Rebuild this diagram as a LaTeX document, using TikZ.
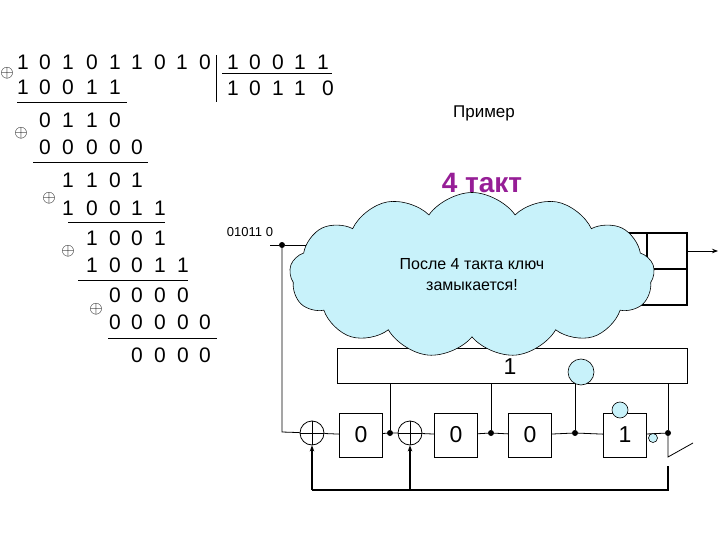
\documentclass[tikz,border=0pt]{standalone}
\usepackage{fontspec}
\setmainfont{Liberation Sans}
\usetikzlibrary{shapes.symbols,arrows.meta}
\definecolor{cloudc}{RGB}{200,242,250}
\definecolor{purp}{RGB}{150,30,150}
\begin{document}
\begin{tikzpicture}[x=1pt,y=-1pt,
  dg/.style={font=\fontsize{21}{21}\selectfont,inner sep=0pt},
  xo/.style={font=\fontsize{16}{16}\selectfont,inner sep=0pt},
  ln/.style={line width=0.8pt},
  reg/.style={draw,line width=0.8pt,minimum width=43,minimum height=44,font=\fontsize{23}{23}\selectfont},
  xr/.style={draw,circle,line width=0.8pt,minimum size=24,inner sep=0pt},
  dot/.style={circle,fill,inner sep=0pt,minimum size=6},
  bl/.style={draw,circle,fill=cloudc,line width=0.6pt,inner sep=0pt}]
\useasboundingbox (0,0) rectangle (720,540);
% division
\foreach \x/\t [count=\i] in {23/1,45/0,68/1,92/0,115/1,137/1,160/0,182/1,205/0}
  \node[dg] (a\i) at (\x,62) {\t};
\foreach \x/\t [count=\i] in {23/1,45/0,68/0,92/1,115/1} \node[dg] (b\i) at (\x,87) {\t};
\node[xo] (o1) at (7,73) {$\oplus$};
\draw[ln] (17,102) -- (127,102);
\draw[ln] (216,55) -- (216,102);
\foreach \x/\t [count=\i] in {233/1,255/0,278/0,300/1,323/1} \node[dg] (d\i) at (\x,62) {\t};
\draw[ln] (222,73) -- (332,73);
\foreach \x/\t [count=\i] in {233/1,255/0,278/1,300/1,328/0} \node[dg] (q\i) at (\x,88) {\t};
\foreach \x/\t [count=\i] in {45/0,68/1,92/1,115/0} \node[dg] (c\i) at (\x,120) {\t};
\node[xo] (o2) at (21,133) {$\oplus$};
\foreach \x/\t [count=\i] in {45/0,68/0,92/0,115/0,137/0} \node[dg] (e\i) at (\x,147) {\t};
\draw[ln] (33,162) -- (148,162);
\foreach \x/\t [count=\i] in {68/1,92/1,115/0,137/1} \node[dg] (f\i) at (\x,180) {\t};
\node[xo] (o3) at (49,198) {$\oplus$};
\foreach \x/\t [count=\i] in {68/1,92/0,115/0,137/1,160/1} \node[dg] (g\i) at (\x,208) {\t};
\draw[ln] (68,222) -- (165,222);
\foreach \x/\t [count=\i] in {92/1,115/0,137/0,160/1} \node[dg] (h\i) at (\x,238) {\t};
\node[xo] (o4) at (68,251) {$\oplus$};
\foreach \x/\t [count=\i] in {92/1,115/0,137/0,160/1,183/1} \node[dg] (k\i) at (\x,265) {\t};
\draw[ln] (78,280) -- (188,280);
\foreach \x/\t [count=\i] in {115/0,137/0,160/0,183/0} \node[dg] (m\i) at (\x,295) {\t};
\node[xo] (o5) at (96,309) {$\oplus$};
\foreach \x/\t [count=\i] in {115/0,137/0,160/0,183/0,205/0} \node[dg] (n\i) at (\x,322) {\t};
\draw[ln] (108,338) -- (217,338);
\foreach \x/\t [count=\i] in {137/0,160/0,183/0,205/0} \node[dg] (p\i) at (\x,355) {\t};
% labels
\node[font=\fontsize{17}{17}\selectfont] (ex) at (484,113) {Пример};
\node[font=\bfseries\fontsize{28}{28}\selectfont,text=purp] (tk) at (482,183) {4 такт};
\node[font=\fontsize{13}{13}\selectfont] (in) at (250,232) {01011 0};
% circuit
\coordinate (s) at (270,245);
\node[dot] (d0) at (282,245) {};
\coordinate (c0) at (282,432);
\node[xr] (x1) at (312,433) {};
\node[reg] (r1) at (361,435) {0};
\node[dot] (d1) at (390,433) {};
\node[xr] (x2) at (410,433) {};
\node[reg] (r2) at (456,435) {0};
\node[dot] (d2) at (491,433) {};
\node[reg] (r3) at (530,435) {0};
\node[dot] (d3) at (575,433) {};
\node[reg] (r4) at (625,435) {1};
\node[dot] (d4) at (668,433) {};
\draw[ln] (337,348) rectangle (687,383);
\node[font=\fontsize{23}{23}\selectfont] (one) at (510,367) {1};
\draw[ln] (s) -- (d0) -- (322,245);
\draw[ln] (d0) -- (c0) -- (x1) -- (r1) -- (d1) -- (x2) -- (r2) -- (d2) -- (r3) -- (d3) -- (r4) -- (d4);
\foreach \d in {d1,d2,d4} \draw[ln] (\d) -- (\d |- 0,383);
\draw[ln] (d3) -- (575,380);
\draw[ln] (x1.west) -- (x1.east) (x1.north) -- (x1.south);
\draw[ln] (x2.west) -- (x2.east) (x2.north) -- (x2.south);
\draw[ln] (d4) -- (668,457) -- (693,443);
\coordinate (fb) at (668,490);
\draw[line width=1.3pt] (668,466) -- (fb) -- (312,490);
\draw[line width=1.3pt,-{Stealth[length=6pt]}] (312,490) -- (x1.south);
\draw[line width=1.3pt,-{Stealth[length=6pt]}] (410,490) -- (x2.south);
\node[bl,minimum size=26] (bc) at (581,372) {};
\node[bl,minimum size=16] (tc) at (620,410) {};
\node[bl,minimum size=9] (sc) at (653,438) {};
% right block behind cloud
\draw[line width=1.1pt] (600,233) -- (687,233) -- (687,305) -- (600,305);
\draw[line width=1.1pt] (647,233) -- (647,269) -- (687,269);
\draw[ln,-{Stealth[length=6pt]}] (687,251) -- (718,251);
% cloud
\node[cloud,cloud puffs=13,cloud puff arc=110,aspect=2.4,draw,fill=cloudc,line width=0.6pt,
  minimum width=365,minimum height=165,inner sep=0pt,align=center,
  font=\fontsize{16}{21}\selectfont] (cl) at (472,275) {После 4 такта ключ\\замыкается!};
\end{tikzpicture}
\end{document}
